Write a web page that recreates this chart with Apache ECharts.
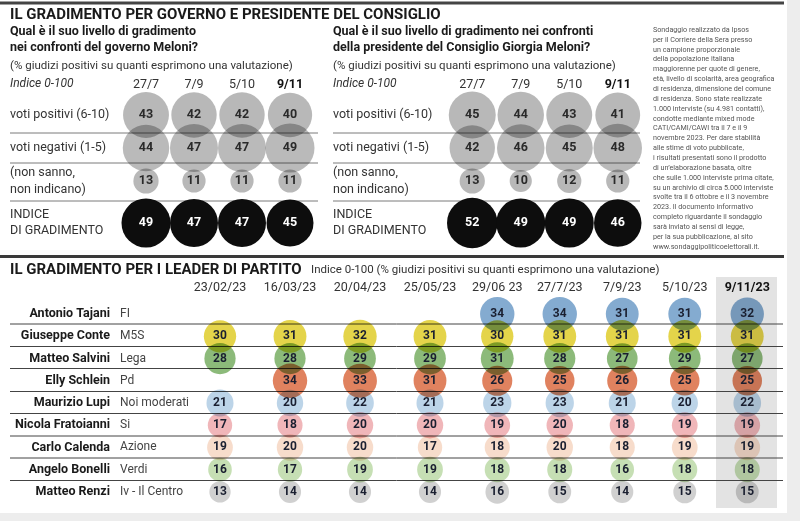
<!DOCTYPE html>
<html><head><meta charset="utf-8">
<script src="https://cdn.jsdelivr.net/npm/echarts@6/dist/echarts.min.js"></script>
<style>html,body{margin:0;padding:0;background:#fff}#c{width:800px;height:521px}</style>
</head><body><div id="c"></div>
<script>
// ---------- DATA ----------
const topDates = ['27/7', '7/9', '5/10', '9/11'];
const topRows = ['voti positivi (6-10)', 'voti negativi (1-5)', '(non sanno,\nnon indicano)'];
const indexRow = ['INDICE\nDI GRADIMENTO'];

const govPositive = [43, 42, 42, 40];
const govNegative = [44, 47, 47, 49];
const govUnknown  = [13, 11, 11, 11];
const govIndex    = [49, 47, 47, 45];

const presPositive = [45, 44, 43, 41];
const presNegative = [42, 46, 45, 48];
const presUnknown  = [13, 10, 12, 11];
const presIndex    = [52, 49, 49, 46];

const leaderDates = ['23/02/23', '16/03/23', '20/04/23', '25/05/23', '29/06 23', '27/7/23', '7/9/23', '5/10/23', '9/11/23'];
const leaderNames = ['Antonio Tajani', 'Giuseppe Conte', 'Matteo Salvini', 'Elly Schlein', 'Maurizio Lupi', 'Nicola Fratoianni', 'Carlo Calenda', 'Angelo Bonelli', 'Matteo Renzi'];
const leaderParties = ['FI', 'M5S', 'Lega', 'Pd', 'Noi moderati', 'Si', 'Azione', 'Verdi', 'Iv - Il Centro'];

const tajani     = [null, null, null, null, 34, 34, 31, 31, 32];
const conte      = [30, 31, 32, 31, 30, 31, 31, 31, 31];
const salvini    = [28, 28, 29, 29, 31, 28, 27, 29, 27];
const schlein    = [null, 34, 33, 31, 26, 25, 26, 25, 25];
const lupi       = [21, 20, 22, 21, 23, 23, 21, 20, 22];
const fratoianni = [17, 18, 20, 20, 19, 20, 18, 19, 19];
const calenda    = [19, 20, 20, 17, 18, 20, 18, 19, 19];
const bonelli    = [16, 17, 19, 19, 18, 18, 16, 18, 18];
const renzi      = [13, 14, 14, 14, 16, 15, 14, 15, 15];

const noteLines = [
  'Sondaggio realizzato da Ipsos',
  'per il Corriere della Sera presso',
  'un campione proporzionale',
  'della popolazione italiana',
  'maggiorenne per quote di genere,',
  'età, livello di scolarità, area geografica',
  'di residenza, dimensione del comune',
  'di residenza. Sono state realizzate',
  '1.000 interviste (su 4.981 contatti),',
  'condotte mediante mixed mode',
  'CATI/CAMI/CAWI tra il 7 e il 9',
  'novembre 2023. Per dare stabilità',
  'alle stime di voto pubblicate,',
  'i risultati presentati sono il prodotto',
  'di un\u2019elaborazione basata, oltre',
  'che sulle 1.000 interviste prima citate,',
  'su un archivio di circa 5.000 interviste',
  'svolte tra il 6 ottobre e il 3 novembre',
  '2023. Il documento informativo',
  'completo riguardante il sondaggio',
  'sarà inviato ai sensi di legge,',
  'per la sua pubblicazione, al sito',
  'www.sondaggipoliticoelettorali.it.'
];

// ---------- STYLE ----------
const FF = 'Roboto, "Liberation Sans", sans-serif';
const leaderValues = [tajani, conte, salvini, schlein, lupi, fratoianni, calenda, bonelli, renzi];
const leaderColors = ['#84abd0', '#e4d44a', '#8cba7a', '#e0825f', '#bcd4e8', '#f0b6b9', '#f7dccb', '#c6dfb4', '#d0d0d0'];

const chart = echarts.init(document.getElementById('c'), null, {renderer: 'canvas'});

const dateFmt = (last) => (v) => v === last ? '{b|' + v + '}' : v;
const boldRich = (fs) => ({b: {fontWeight: 'bold', fontSize: fs, color: '#111', fontFamily: FF}});

const grids = [
  {left: 122, width: 192, top: 98.5, height: 99},   // 0 gov rows
  {left: 122, width: 192, top: 203, height: 40},    // 1 gov index
  {left: 448, width: 194, top: 98.5, height: 99},   // 2 pres rows
  {left: 448, width: 194, top: 203, height: 40},    // 3 pres index
  {left: 185, width: 280, top: 303, height: 200},   // 4 leaders col 0-3
  {left: 466, width: 312.5, top: 303, height: 200}  // 5 leaders col 4-8
];

const hidden = {axisLine: {show: false}, axisTick: {show: false}, splitLine: {show: false}};
const dateLabel = (margin, last) => ({interval: 0, margin: margin, fontSize: 12.5, color: '#333', fontFamily: FF,
  formatter: last ? dateFmt(last) : null, rich: boldRich(12.5)});
const xAxes = [
  Object.assign({type: 'category', gridIndex: 0, data: topDates, position: 'top', axisLabel: dateLabel(7.5, '9/11')}, hidden),
  Object.assign({type: 'category', gridIndex: 1, data: topDates, axisLabel: {show: false}}, hidden),
  Object.assign({type: 'category', gridIndex: 2, data: topDates, position: 'top', axisLabel: dateLabel(7.5, '9/11')}, hidden),
  Object.assign({type: 'category', gridIndex: 3, data: topDates, axisLabel: {show: false}}, hidden),
  Object.assign({type: 'category', gridIndex: 4, data: leaderDates.slice(0, 4), position: 'top', axisLabel: dateLabel(9)}, hidden),
  Object.assign({type: 'category', gridIndex: 5, data: leaderDates.slice(4), position: 'top', axisLabel: dateLabel(9, '9/11/23')}, hidden)
];

const rowLabel = (margin, lh, fs, color) => ({interval: 0, align: 'left', margin: margin, fontSize: fs, lineHeight: lh, color: color, fontFamily: FF});
const yAxes = [
  Object.assign({type: 'category', gridIndex: 0, position: 'left', data: topRows, inverse: true, axisLabel: rowLabel(112, 17, 12.5, '#333')}, hidden),
  Object.assign({type: 'category', gridIndex: 1, position: 'left', data: indexRow, inverse: true, axisLabel: rowLabel(112, 16, 12.5, '#333')}, hidden),
  Object.assign({type: 'category', gridIndex: 2, position: 'left', data: topRows, inverse: true, axisLabel: rowLabel(115, 17, 12.5, '#333')}, hidden),
  Object.assign({type: 'category', gridIndex: 3, position: 'left', data: indexRow, inverse: true, axisLabel: rowLabel(115, 16, 12.5, '#333')}, hidden),
  Object.assign({type: 'category', gridIndex: 4, position: 'left', data: leaderNames, inverse: true,
    axisLabel: {interval: 0, align: 'right', margin: 75, fontSize: 12.5, fontWeight: 'bold', color: '#1a1a1a', fontFamily: FF}}, hidden),
  Object.assign({type: 'category', gridIndex: 4, position: 'left', offset: 0, data: leaderParties, inverse: true,
    axisLabel: {interval: 0, align: 'left', margin: 65, fontSize: 12, color: '#444', fontFamily: FF}}, hidden),
  Object.assign({type: 'category', gridIndex: 5, position: 'left', data: leaderNames, inverse: true, axisLabel: {show: false}}, hidden)
];

const series = [];
function topSeries(gridIdx, rowName, values, color, isIndex) {
  series.push({
    type: 'scatter', xAxisIndex: gridIdx, yAxisIndex: gridIdx, silent: true, z: isIndex ? 3 : 2,
    blendMode: isIndex ? 'source-over' : 'multiply',
    data: values.map((v, i) => [topDates[i], rowName, v]),
    symbolSize: (d) => 7 * Math.sqrt(d[2]),
    itemStyle: {color: color, opacity: 1},
    label: {show: true, position: 'inside', formatter: (p) => p.value[2], fontSize: 12.5, fontWeight: 'bold',
      color: isIndex ? '#fff' : '#2a2a2a', fontFamily: FF}
  });
}
topSeries(0, topRows[0], govPositive, '#b8b8b8');
topSeries(0, topRows[1], govNegative, '#bababa');
topSeries(0, topRows[2], govUnknown, '#b8b8b8');
topSeries(1, indexRow[0], govIndex, '#0d0d0d', true);
topSeries(2, topRows[0], presPositive, '#b8b8b8');
topSeries(2, topRows[1], presNegative, '#bababa');
topSeries(2, topRows[2], presUnknown, '#b8b8b8');
topSeries(3, indexRow[0], presIndex, '#0d0d0d', true);

leaderNames.forEach((name, li) => {
  [[4, 4, 0, 4], [5, 6, 4, 9]].forEach(([xi, yi, a, b]) => {
    const data = [];
    for (let i = a; i < b; i++) {
      if (leaderValues[li][i] != null) data.push([leaderDates[i], name, leaderValues[li][i]]);
    }
    series.push({
      type: 'scatter', xAxisIndex: xi, yAxisIndex: yi, silent: true, z: 2, blendMode: 'multiply',
      data: data,
      symbolSize: (d) => 5.9 * Math.sqrt(d[2]),
      itemStyle: {color: leaderColors[li], opacity: 1},
      label: {show: true, position: 'inside', formatter: (p) => p.value[2], fontSize: 12, fontWeight: 'bold',
        color: '#1a1f30', fontFamily: FF}
    });
  });
});

// ---------- decoration / text ----------
const g = [];
const txt = (x, y, text, font, fill, z) => g.push({type: 'text', x: x, y: y, z: z || 5, silent: true,
  style: {text: text, font: font, fill: fill || '#222', textVerticalAlign: 'middle'}});
const line = (x1, y1, x2, y2, stroke, w, z) => g.push({type: 'line', z: z || 1, silent: true,
  shape: {x1: x1, y1: y1, x2: x2, y2: y2}, style: {stroke: stroke, lineWidth: w}});

g.push({type: 'rect', z: 0, silent: true, shape: {x: 787, y: 0, width: 13, height: 521}, style: {fill: '#ededed'}});
g.push({type: 'rect', z: 0, silent: true, shape: {x: 0, y: 513, width: 800, height: 8}, style: {fill: '#ededed'}});
g.push({type: 'rect', z: 0, silent: true, shape: {x: 716, y: 277, width: 61, height: 231}, style: {fill: '#e3e3e3'}});

line(0, 3, 784, 3, '#444', 3);
line(0, 256.5, 784, 256.5, '#3a3a3a', 3);
[133, 163, 201].forEach(y => { line(10, y, 318, y, '#7a7a7a', 1); line(333, y, 640, y, '#7a7a7a', 1); });
[324, 346.5, 368.5, 391.5, 413.5, 436, 458, 480.5].forEach(y => line(10, y, 783, y, '#444', 1));

txt(10, 15.5, 'IL GRADIMENTO PER GOVERNO E PRESIDENTE DEL CONSIGLIO', 'bold 15px ' + FF, '#1a1a1a');
txt(10, 32, 'Qual è il suo livello di gradimento', 'bold 12.5px ' + FF, '#1a1a1a');
txt(10, 48, 'nei confronti del governo Meloni?', 'bold 12.5px ' + FF, '#1a1a1a');
txt(10, 66, '(% giudizi positivi su quanti esprimono una valutazione)', '11.5px ' + FF, '#333');
txt(10, 84, 'Indice 0-100', 'italic 12px ' + FF, '#333');
txt(333, 32, 'Qual è il suo livello di gradimento nei confronti', 'bold 12.5px ' + FF, '#1a1a1a');
txt(333, 48, 'della presidente del Consiglio Giorgia Meloni?', 'bold 12.5px ' + FF, '#1a1a1a');
txt(333, 66, '(% giudizi positivi su quanti esprimono una valutazione)', '11.5px ' + FF, '#333');
txt(333, 84, 'Indice 0-100', 'italic 12px ' + FF, '#333');
noteLines.forEach((t, i) => txt(653, 30 + i * 9.86, t, '7.2px ' + FF, '#555'));
txt(10, 270, 'IL GRADIMENTO PER I LEADER DI PARTITO', 'bold 15px ' + FF, '#1a1a1a');
txt(311, 270, 'Indice 0-100 (% giudizi positivi su quanti esprimono una valutazione)', '11.5px ' + FF, '#333');

chart.setOption({
  animation: false,
  backgroundColor: '#fff',
  textStyle: {fontFamily: FF},
  grid: grids,
  xAxis: xAxes,
  yAxis: yAxes,
  series: series,
  graphic: {elements: g}
});
</script>
</body></html>
